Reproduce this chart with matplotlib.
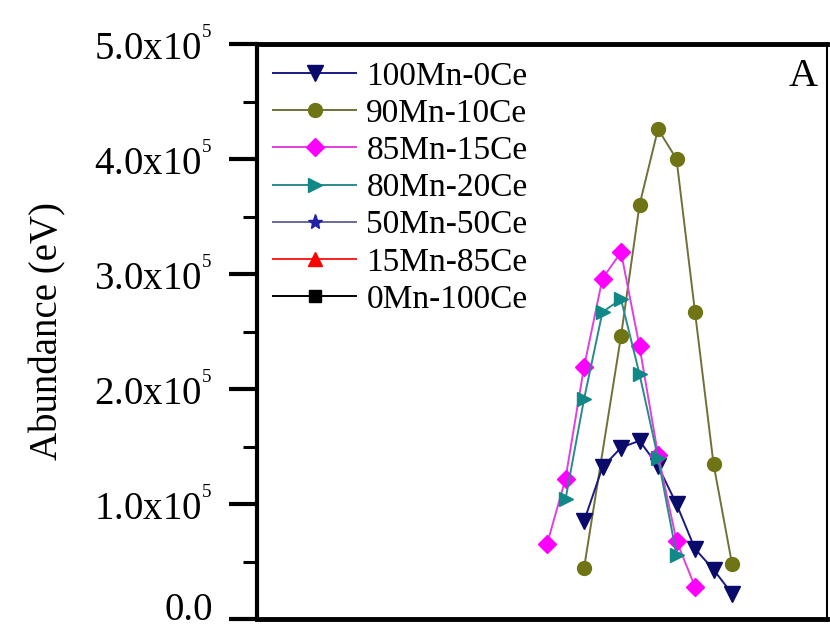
import matplotlib
matplotlib.use("Agg")
import matplotlib.pyplot as plt
import matplotlib.transforms as mtransforms
from matplotlib.ticker import MultipleLocator, FuncFormatter

plt.rcParams['font.family'] = ['Liberation Serif', 'DejaVu Serif']
plt.rcParams['mathtext.fontset'] = 'custom'
plt.rcParams['mathtext.rm'] = 'Liberation Serif'
plt.rcParams['mathtext.it'] = 'Liberation Serif:italic'

# ---- data (x = channel index, y = abundance) ----
labels = ["100Mn-0Ce", "90Mn-10Ce", "85Mn-15Ce", "80Mn-20Ce",
          "50Mn-50Ce", "15Mn-85Ce", "0Mn-100Ce"]

x_100Mn = [2, 3, 4, 5, 6, 7, 8, 9, 10]
y_100Mn = [0.85e5, 1.32e5, 1.49e5, 1.55e5, 1.33e5, 1.00e5, 0.61e5, 0.43e5, 0.22e5]

x_90Mn = [2, 4, 5, 6, 7, 8, 9, 10]
y_90Mn = [0.44e5, 2.46e5, 3.60e5, 4.26e5, 4.00e5, 2.67e5, 1.35e5, 0.48e5]

x_85Mn = [0, 1, 2, 3, 4, 5, 6, 7, 8]
y_85Mn = [0.65e5, 1.22e5, 2.19e5, 2.96e5, 3.19e5, 2.37e5, 1.43e5, 0.68e5, 0.28e5]

x_80Mn = [1, 2, 3, 4, 5, 6, 7]
y_80Mn = [1.04e5, 1.91e5, 2.67e5, 2.78e5, 2.13e5, 1.40e5, 0.56e5]

x_50Mn, y_50Mn = [], []
x_15Mn, y_15Mn = [], []
x_0Mn, y_0Mn = [], []

yticks = [0, 1e5, 2e5, 3e5, 4e5, 5e5]

# ---- figure ----
fig = plt.figure(figsize=(8.3, 6.29), dpi=100)
ax = fig.add_axes([257/830, 1 - 619/629, (827-257)/830, (619-44)/629])

styles = [
    (x_100Mn, y_100Mn, dict(color='#1a1a80', marker='v', ms=11, mfc='#0a0a6a', mec='#0a0a6a', zorder=4)),
    (x_90Mn, y_90Mn, dict(color='#707038', marker='o', ms=10, mfc='#6f7514', mec='#6f7514', zorder=3)),
    (x_85Mn, y_85Mn, dict(color='#e040e0', marker='D', ms=9, mfc='#ff00ff', mec='#ff00ff', zorder=5)),
    (x_80Mn, y_80Mn, dict(color='#2a8a8a', marker='>', ms=10, mfc='#118888', mec='#118888', zorder=6)),
    (x_50Mn, y_50Mn, dict(color='#6a6a9a', marker='*', ms=11, mfc='#2020a8', mec='#2020a8', zorder=2)),
    (x_15Mn, y_15Mn, dict(color='#ff2020', marker='^', ms=10, mfc='#ff0000', mec='#ff0000', zorder=2)),
    (x_0Mn, y_0Mn, dict(color='#000000', marker='s', ms=8, mfc='#000000', mec='#000000', zorder=2)),
]
for (xs, ys, st), lab in zip(styles, labels):
    ax.plot(xs, ys, lw=1.4, label=lab, **st)

ax.set_xlim((257-547)/18.5, (827-547)/18.5)
ax.set_ylim(0, 5e5)

ax.set_yticks(yticks)
def fmt(v, pos):
    if v == 0:
        return "0.0"
    return r"$\mathregular{%.1fx10^{{}^{5}}}$" % (v / 1e5)
ax.yaxis.set_major_formatter(FuncFormatter(fmt))
ax.yaxis.set_minor_locator(MultipleLocator(0.5e5))
ax.tick_params(axis='y', which='major', direction='out', length=20, width=3,
               labelsize=28, pad=12)
ax.tick_params(axis='y', which='minor', direction='out', length=10, width=2.2)
ax.tick_params(axis='x', which='both', bottom=False, labelbottom=False)

for side, lw in [('left', 3), ('top', 3.5), ('bottom', 3.5), ('right', 1.5)]:
    ax.spines[side].set_linewidth(lw)

ax.set_ylabel("Abundance (eV)", fontsize=28, labelpad=20)

ax.text(0.984, 0.975, "A", transform=ax.transAxes, fontsize=29,
        ha='right', va='top')

leg = ax.legend(loc='upper left', bbox_to_anchor=(0.028, 0.97), frameon=False,
                fontsize=24, handlelength=2.5, handletextpad=0.3,
                labelspacing=0.2, borderpad=0, borderaxespad=0)

fig.canvas.draw()
# nudge the bottom "0.0" label up so it sits just above the frame's lower edge
for lab_t in ax.get_yticklabels():
    if lab_t.get_text() == "0.0":
        lab_t.set_transform(lab_t.get_transform() +
                            mtransforms.ScaledTranslation(0, 13/100, fig.dpi_scale_trans))

fig.savefig("out.png", dpi=100)
